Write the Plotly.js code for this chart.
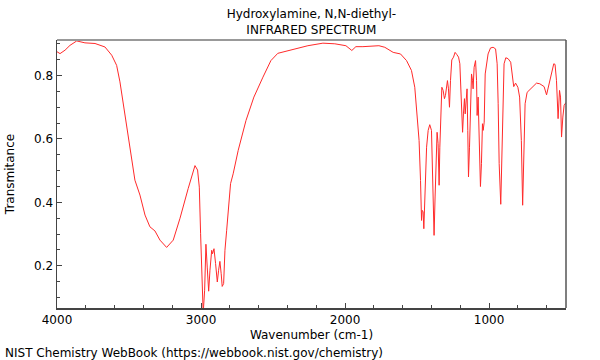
<!DOCTYPE html>
<html>
<head>
<meta charset="utf-8">
<script src="https://cdn.plot.ly/plotly-3.0.1.min.js"></script>
<style>html,body{margin:0;padding:0;background:#fff;}#chart{width:600px;height:360px;}</style>
</head>
<body>
<div id="chart"></div>
<script>
const wavenumber = [4000,3979,3944,3910,3863,3806,3736,3667,3620,3586,3563,3528,3493,3459,3424,3389,3355,3320,3285,3239,3193,3146,3089,3042,3024,3012,3003,2992,2985,2975,2966,2957,2947,2938,2926,2920,2910,2899,2887,2878,2869,2860,2853,2843,2834,2822,2811,2795,2777,2758,2742,2688,2633,2570,2515,2467,2370,2258,2154,2071,1994,1953,1925,1876,1765,1724,1666,1615,1573,1539,1516,1500,1486,1476,1469,1465,1458,1453,1444,1434,1423,1412,1400,1393,1386,1382,1375,1368,1361,1354,1347,1342,1335,1328,1319,1310,1303,1296,1289,1282,1275,1268,1259,1247,1236,1224,1212,1203,1194,1184,1178,1171,1166,1160,1153,1148,1143,1136,1129,1122,1115,1111,1104,1094,1087,1083,1076,1069,1060,1053,1046,1041,1034,1027,1018,1007,990,972,955,944,937,930,919,912,905,896,884,868,850,838,829,816,800,788,776,767,759,750,736,706,671,648,618,601,585,567,551,542,532,521,511,504,497,488,479,466];
const transmittance = [0.875,0.869,0.880,0.895,0.909,0.903,0.901,0.890,0.864,0.832,0.780,0.675,0.570,0.470,0.423,0.360,0.323,0.310,0.281,0.258,0.281,0.350,0.444,0.516,0.502,0.448,0.301,0.123,0.05,0.123,0.268,0.196,0.120,0.186,0.249,0.238,0.254,0.207,0.149,0.186,0.214,0.175,0.135,0.144,0.249,0.312,0.375,0.459,0.490,0.532,0.564,0.658,0.732,0.795,0.847,0.870,0.881,0.894,0.902,0.900,0.894,0.879,0.891,0.891,0.894,0.889,0.873,0.868,0.847,0.816,0.763,0.679,0.595,0.469,0.343,0.375,0.370,0.317,0.417,0.574,0.627,0.645,0.627,0.522,0.354,0.296,0.417,0.574,0.621,0.585,0.454,0.574,0.721,0.763,0.753,0.727,0.737,0.758,0.784,0.758,0.700,0.784,0.849,0.858,0.873,0.866,0.858,0.837,0.732,0.621,0.679,0.727,0.679,0.732,0.758,0.627,0.480,0.574,0.732,0.805,0.784,0.758,0.826,0.847,0.784,0.674,0.732,0.574,0.450,0.522,0.648,0.627,0.653,0.805,0.842,0.868,0.887,0.889,0.884,0.837,0.711,0.522,0.394,0.522,0.711,0.837,0.856,0.853,0.842,0.784,0.765,0.776,0.763,0.732,0.595,0.391,0.543,0.711,0.747,0.761,0.776,0.774,0.765,0.739,0.774,0.805,0.837,0.835,0.784,0.664,0.753,0.732,0.606,0.669,0.706,0.715];
const xTickVals = [4000,3000,2000,1000];
const yTickVals = [0.2,0.4,0.6,0.8];

const font = {family: 'DejaVu Sans, sans-serif', size: 12, color: '#000'};
const trace = {
  x: wavenumber, y: transmittance, type: 'scatter', mode: 'lines',
  line: {color: '#ff2a2a', width: 1}, hoverinfo: 'skip'
};
const layout = {
  width: 600, height: 360,
  margin: {l: 57, r: 34, t: 40, b: 52},
  paper_bgcolor: '#fff', plot_bgcolor: '#fff',
  font: font, showlegend: false,
  title: {text: 'Hydroxylamine, N,N-diethyl-<br>INFRARED SPECTRUM', font: {family: 'DejaVu Sans, sans-serif', size: 12, color: '#000'},
          x: 0.519, xanchor: 'center', y: 0.949, yanchor: 'top', yref: 'container'},
  xaxis: {
    range: [4000, 466], autorange: false,
    tickvals: xTickVals, ticktext: xTickVals.map(String),
    ticks: 'inside', ticklen: 5, tickcolor: '#444', tickwidth: 1,
    minor: {dtick: 200, ticks: 'inside', ticklen: 3, tickcolor: '#444', showgrid: false},
    showgrid: false, zeroline: false, showline: true, linecolor: '#444', linewidth: 1.5,
    tickfont: font,
    title: {text: 'Wavenumber (cm-1)', font: font, standoff: 4}
  },
  yaxis: {
    range: [0.067, 0.912], autorange: false,
    tickvals: yTickVals, ticktext: yTickVals.map(v => v.toFixed(1)),
    ticks: 'inside', ticklen: 5, tickcolor: '#444', tickwidth: 1,
    minor: {dtick: 0.05, ticks: 'inside', ticklen: 3, tickcolor: '#444', showgrid: false},
    showgrid: false, zeroline: false, showline: true, linecolor: '#444', linewidth: 1.5,
    tickfont: font,
    title: {text: 'Transmitance', font: font, standoff: 17}
  },
  shapes: [
    {type: 'line', xref: 'paper', yref: 'paper', x0: 0, x1: 1, y0: 1, y1: 1, line: {color: '#999', width: 2}},
    {type: 'line', xref: 'paper', yref: 'paper', x0: 1, x1: 1, y0: 0, y1: 1, line: {color: '#555', width: 1.5}}
  ],
  annotations: [
    {text: 'NIST Chemistry WebBook (https://webbook.nist.gov/chemistry)', xref: 'paper', yref: 'paper',
     x: -0.106, xanchor: 'left', y: -0.168, yanchor: 'middle', showarrow: false, font: font}
  ]
};
Plotly.newPlot('chart', [trace], layout, {staticPlot: true, displayModeBar: false});
</script>
</body>
</html>
